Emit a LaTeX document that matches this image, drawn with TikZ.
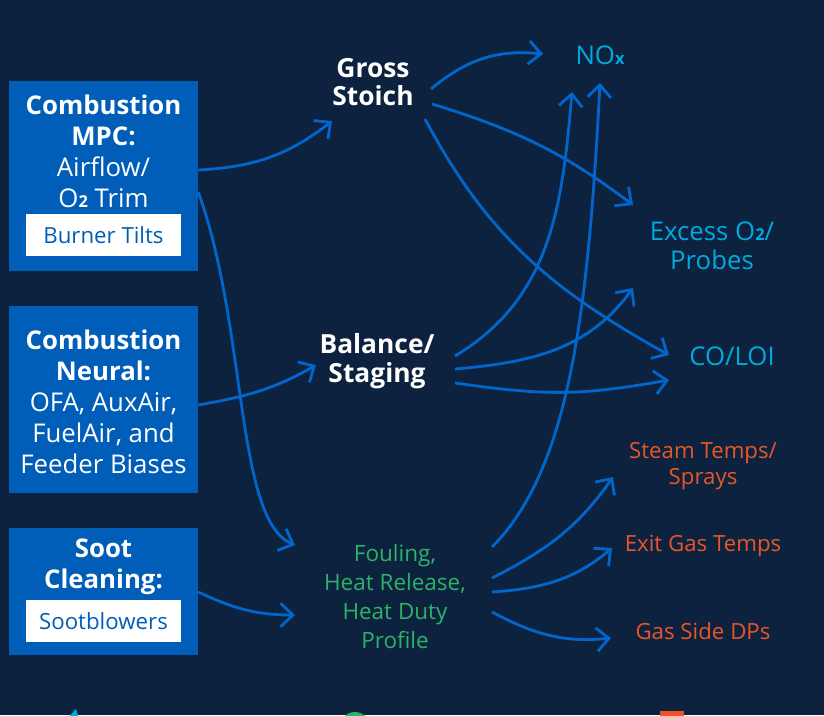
\documentclass[tikz,border=0pt]{standalone}
\usepackage{fontspec}
\setmainfont{Open Sans}
\usetikzlibrary{%
	arrows.meta,%
	calc,%
	positioning
}
\definecolor{navy}{RGB}{13,34,62}
\definecolor{gebox}{RGB}{0,94,184}
\definecolor{flowblue}{RGB}{0,102,204}
\definecolor{outcyan}{RGB}{0,170,222}
\definecolor{outgreen}{RGB}{45,178,105}
\definecolor{outorange}{RGB}{232,86,40}

\newcommand{\lowsub}[1]{{\fontsize{14}{14}\selectfont\bfseries #1}}

\begin{document}
\begin{tikzpicture}[x=0.03cm,y=-0.03cm,
		ctrlbox/.style={fill=gebox, minimum width=5.67cm, inner sep=0pt},
		ctrltext/.style={text=white, align=center, inner sep=0pt, font=\fontsize{22}{26.5}\selectfont},
		tagbox/.style={fill=white, text=gebox, minimum width=4.65cm, minimum height=1.26cm, inner sep=0pt, font=\fontsize{19}{22}\selectfont},
		midtext/.style={text=white, align=center, inner sep=0pt, font=\fontsize{22.5}{24.5}\selectfont\bfseries},
		greentext/.style={text=outgreen, align=center, inner sep=0pt, font=\fontsize{19.2}{24.7}\selectfont},
		cyantext/.style={text=outcyan, align=center, inner sep=0pt, font=\fontsize{22}{24.7}\selectfont},
		orangetext/.style={text=outorange, align=center, inner sep=0pt, font=\fontsize{19}{22.2}\selectfont},
		flow/.style={draw=flowblue, line width=2.4pt, -{Straight Barb[length=10.5pt,width=20pt]}}
	]
	% Background
	\fill[navy] (0,0) rectangle (824,715);
	\useasboundingbox (0,0) rectangle (824,715);

	% Control boxes on the left
	\node[ctrlbox, minimum height=5.7cm] (mpc) at (103.5,176) {};
	\node[ctrltext] (mpctext) at (103.5,151.5) {\textbf{Combustion}\\\textbf{MPC:}\\Airflow/\\O\lowsub{2} Trim};
	\node[tagbox] (tilts) at (103.5,235) {Burner Tilts};

	\node[ctrlbox, minimum height=5.61cm] (neural) at (103.5,399.5) {};
	\node[ctrltext] (neuraltext) at (103.5,401.5) {\textbf{Combustion}\\\textbf{Neural:}\\OFA, AuxAir,\\FuelAir, and\\Feeder Biases};

	\node[ctrlbox, minimum height=3.81cm] (soot) at (103.5,591.5) {};
	\node[ctrltext] (soottext) at (103.5,567) {\textbf{Soot}\\\textbf{Cleaning:}};
	\node[tagbox] (blowers) at (103.5,621) {Sootblowers};

	% Middle quantities
	\node[midtext] (gross) at (373,82) {Gross\\Stoich};
	\node[midtext] (balance) at (377,361) {Balance/\\Staging};
	\node[greentext] (fouling) at (395,596.5) {Fouling,\\Heat Release,\\Heat Duty\\Profile};

	% Outputs
	\node[cyantext] (nox) at (600,55) {NO\lowsub{x}};
	\node[cyantext] (excess) at (712,246) {Excess O\lowsub{2}/\\Probes};
	\node[cyantext] (co) at (732,356) {CO/LOI};
	\node[orangetext] (steam) at (703,466) {Steam Temps/\\Sprays};
	\node[orangetext] (exit) at (703,546) {Exit Gas Temps};
	\node[orangetext] (gasside) at (703,631) {Gas Side DPs};

	% Controls to middle
	\draw[flow] ($(mpc.east)+(0,-6)$) to[out=3,in=-142] ($(gross)+(-41,39)$);
	\draw[flow] ($(mpc.east)+(0,16)$) to[out=-70,in=-202,in looseness=0.45] ($(fouling)+(-100,-51.5)$);
	\draw[flow] ($(neural.east)+(0,5.5)$) to[out=10,in=-150] ($(balance)+(-61,4)$);
	\draw[flow] ($(soot.east)+(0,0.5)$) to[out=-25,in=-180] ($(fouling)+(-100,18.5)$);

	% Middle to outputs
	\draw[flow] ($(gross)+(58,7)$) to[out=40,in=-186] ($(nox)+(-57,-1)$);
	\draw[flow] ($(gross)+(59,22)$) to[out=-17,in=-217] ($(excess)+(-79,-41)$);
	\draw[flow] ($(gross)+(52,37)$) to[out=-62,in=-209] ($(co)+(-63,-1)$);

	\draw[flow] ($(balance)+(78,-5)$) to[out=31,in=-95] ($(nox)+(-28,37)$);
	\draw[flow] ($(balance)+(78,8)$) to[out=5,in=-126] ($(excess)+(-79,42)$);
	\draw[flow] ($(balance)+(78,22)$) to[out=-8,in=-170,looseness=1.1] ($(co)+(-63,24)$);

	\draw[flow] ($(fouling)+(97,-49.5)$) to[out=45,in=-93,out looseness=0.6,in looseness=1.2] ($(nox)+(0,28)$);
	\draw[flow] ($(fouling)+(97,-18.5)$) to[out=27,in=-125] ($(steam)+(-90,11)$);
	\draw[flow] ($(fouling)+(97,-4.5)$) to[out=4,in=-140] ($(exit)+(-91,2)$);
	\draw[flow] ($(fouling)+(97,15.5)$) to[out=-28,in=-174] ($(gasside)+(-92,7)$);

	% Legend marks cut off at the bottom edge
	\fill[outcyan] (64,722) -- (76,709) -- (80,722) -- cycle;
	\fill[outgreen] (355,727) circle (15);
	\fill[outorange] (660,711) rectangle (684,735);
\end{tikzpicture}
\end{document}
